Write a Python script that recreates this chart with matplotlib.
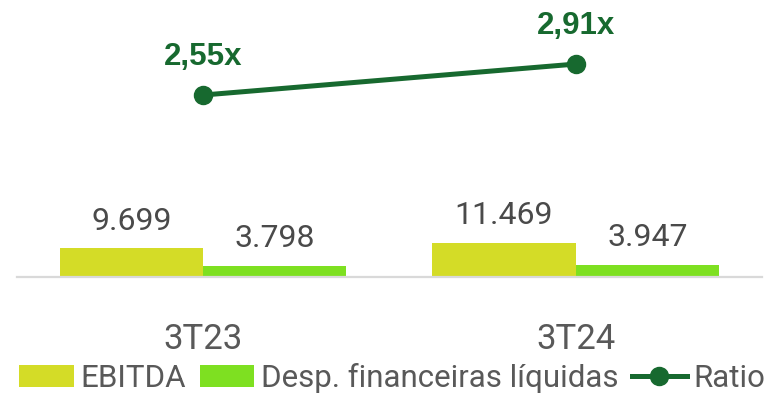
import matplotlib
matplotlib.use("Agg")
import matplotlib.pyplot as plt
import numpy as np

# Data
periods = ["3T23", "3T24"]
ebitda = [9699, 11469]
desp_fin = [3798, 3947]
ratio = [2.55, 2.91]
ebitda_labels = ["9.699", "11.469"]
desp_labels = ["3.798", "3.947"]
ratio_labels = ["2,55x", "2,91x"]

C_EBITDA = "#d4dc27"
C_DESP = "#7ee021"
C_RATIO = "#17692f"
C_TEXT = "#4a4a4a"
C_CAT = "#595959"

plt.rcParams["font.family"] = ["Roboto", "DejaVu Sans"]

W, H = 772, 396
fig = plt.figure(figsize=(W / 100, H / 100), dpi=100)
ax_l, ax_r, ax_b = 16.7, 762.0, 276.7
ax = fig.add_axes([ax_l / W, (H - ax_b) / H, (ax_r - ax_l) / W, ax_b / H])

x = np.arange(len(periods))
bw = 0.385
b1 = ax.bar(x - bw / 2, ebitda, bw, color=C_EBITDA, label="EBITDA", zorder=2)
b2 = ax.bar(x + bw / 2, desp_fin, bw, color=C_DESP,
            label="Desp. financeiras líquidas", zorder=2)

for rect, lab in zip(b1, ebitda_labels):
    ax.annotate(lab, (rect.get_x() + rect.get_width() / 2, rect.get_height()),
                xytext=(0, 13.5), textcoords="offset points", ha="center",
                va="baseline", fontsize=23, color=C_TEXT)
for rect, lab in zip(b2, desp_labels):
    ax.annotate(lab, (rect.get_x() + rect.get_width() / 2, rect.get_height()),
                xytext=(0, 13.5), textcoords="offset points", ha="center",
                va="baseline", fontsize=23, color=C_TEXT)

ax.set_xlim(-0.5, 1.5)
ax.set_ylim(0, 94760)
ax.set_xticks(x)
ax.set_xticklabels(periods, fontsize=25, color=C_CAT)
ax.tick_params(axis="x", length=0, pad=33)
ax.set_yticks([])
for s in ("top", "left", "right"):
    ax.spines[s].set_visible(False)
ax.spines["bottom"].set_color("#d9d9d9")
ax.spines["bottom"].set_linewidth(1.6)

ax2 = ax.twinx()
ln, = ax2.plot(x, ratio, color=C_RATIO, lw=3.6, marker="o", markersize=13,
               label="Ratio", zorder=3)
for xi, v, lab in zip(x, ratio, ratio_labels):
    ax2.annotate(lab, (xi, v), xytext=(0, 21.5), textcoords="offset points",
                 ha="center", va="baseline", fontsize=22.5, fontweight="bold",
                 color=C_RATIO, family=["Liberation Sans", "DejaVu Sans"])
ax2.set_ylim(0.44, 3.654)
ax2.set_yticks([])
for s in ax2.spines.values():
    s.set_visible(False)

fig.legend(handles=[b1, b2, ln], loc="center",
           bbox_to_anchor=(392 / W, (H - 378) / H), ncol=3, frameon=False,
           fontsize=22.5, handlelength=1.75, handleheight=0.7,
           handletextpad=0.2, columnspacing=0.45, borderpad=0,
           labelcolor=C_CAT)

fig.savefig("out.png", dpi=100)
